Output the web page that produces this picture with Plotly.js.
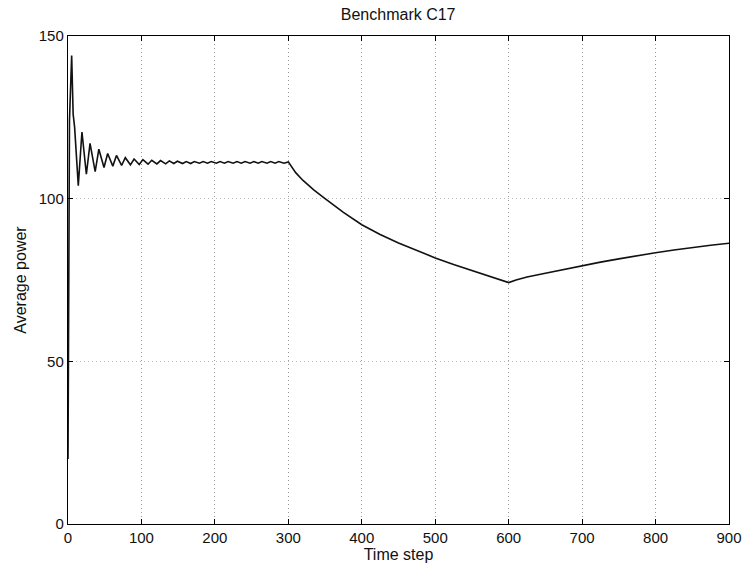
<!DOCTYPE html>
<html>
<head>
<meta charset="utf-8">
<script src="https://cdn.plot.ly/plotly-3.0.1.min.js"></script>
<style>html,body{margin:0;padding:0;background:#fff;}#chart{width:747px;height:566px;}</style>
</head>
<body>
<div id="chart"></div>
<script>
// Time steps (x) and average power (y)
var timeSteps = [
  0, 2, 5, 7, 9, 14,
  19, 25, 30, 37, 42, 49, 54, 61, 66, 73, 78, 85, 90, 97,
  102, 109, 114, 121, 126, 133, 138, 144, 149, 156, 161, 167, 172, 179, 184, 190,
  195, 202, 207, 213, 218, 225, 230, 236, 241, 248, 253, 259, 264, 271, 276, 282,
  287, 294, 300,
  310, 320, 335, 350, 375, 400, 425, 450, 475, 500, 525, 550, 575, 600,
  610, 625, 650, 675, 700, 725, 750, 775, 800, 825, 850, 875, 900
];
var avgPower = [
  20, 124, 144, 126, 122, 104,
  120.5, 107.5, 117, 108.3, 115.2, 109.6, 113.9, 110.0, 113.3, 110.2, 112.6, 110.4, 112.2, 110.5,
  112.0, 110.6, 111.8, 110.7, 111.7, 110.7, 111.6, 110.8, 111.5, 110.8, 111.4, 110.8, 111.4, 110.9, 111.4, 110.9,
  111.4, 110.9, 111.4, 110.9, 111.4, 110.9, 111.4, 110.9, 111.4, 110.9, 111.4, 110.9, 111.4, 110.9, 111.4, 110.9,
  111.4, 110.9, 111.3,
  108.0, 105.6, 102.6, 100.0, 95.8, 92.0, 89.0, 86.4, 84.0, 81.8, 79.8, 77.9, 76.0, 74.2,
  75.0, 75.9, 77.1, 78.3, 79.4, 80.5, 81.5, 82.5, 83.4, 84.2, 85.0, 85.7, 86.3
];
var xTicks = [0, 100, 200, 300, 400, 500, 600, 700, 800, 900];
var yTicks = [0, 50, 100, 150];

var FONT = 'Liberation Sans, Arial, sans-serif';

var trace = {
  x: timeSteps,
  y: avgPower,
  type: 'scatter',
  mode: 'lines',
  line: {color: '#111', width: 1.6},
  hoverinfo: 'skip'
};

var axisCommon = {
  showline: true,
  linecolor: '#000',
  linewidth: 1.2,
  mirror: 'ticks',
  ticks: 'inside',
  ticklen: 5,
  tickcolor: '#000',
  showgrid: true,
  griddash: '1px,3px',
  gridwidth: 1,
  zeroline: false,
  tickfont: {family: FONT, size: 15, color: '#111'}
};

var layout = {
  width: 747,
  height: 566,
  margin: {l: 68, r: 18, t: 36, b: 42},
  paper_bgcolor: '#fff',
  plot_bgcolor: '#fff',
  showlegend: false,
  title: {
    text: 'Benchmark C17',
    font: {family: FONT, size: 16, color: '#111'},
    x: 0.533, xanchor: 'center', y: 0.974, yanchor: 'middle'
  },
  xaxis: Object.assign({}, axisCommon, {
    range: [0, 900],
    tickvals: xTicks,
    ticktext: xTicks.map(String),
    gridcolor: '#999',
    title: {text: 'Time step', font: {family: FONT, size: 16, color: '#111'}, standoff: 0}
  }),
  yaxis: Object.assign({}, axisCommon, {
    range: [0, 150],
    tickvals: yTicks,
    ticktext: yTicks.map(String),
    gridcolor: '#bbb',
    title: {text: 'Average power', font: {family: FONT, size: 16, color: '#111'}, standoff: 8}
  })
};

Plotly.newPlot('chart', [trace], layout, {displayModeBar: false, staticPlot: true});
</script>
</body>
</html>
